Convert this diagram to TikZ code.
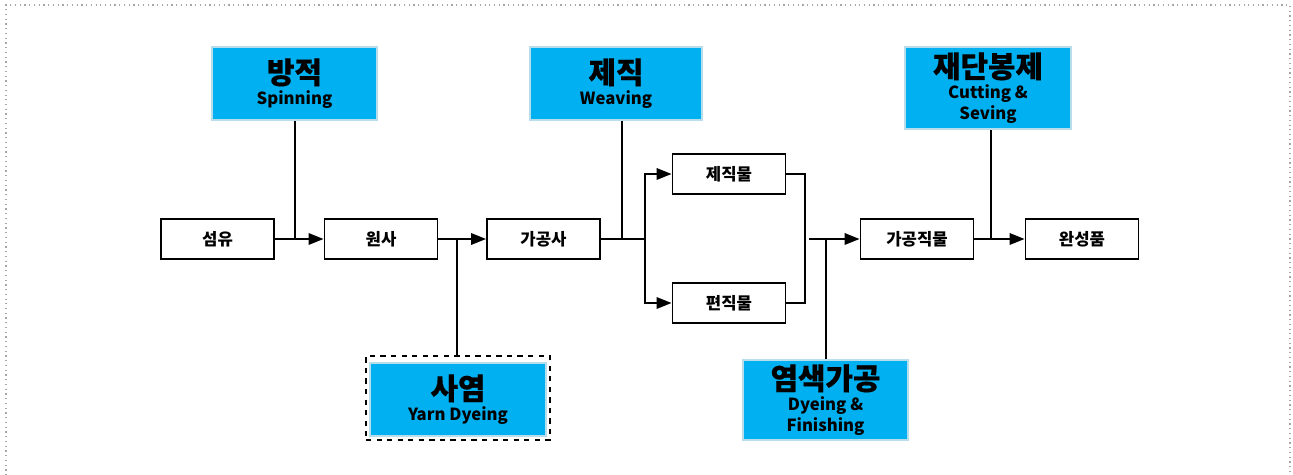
\documentclass[tikz,border=0pt]{standalone}
\usepackage{fontspec}
\setmainfont{Noto Sans CJK KR}
\newfontfamily\krmid{Noto Sans CJK KR}[FakeBold=0.4]
\usepackage{tikz}
\usetikzlibrary{arrows.meta}

\definecolor{taskblue}{HTML}{00B0F0}
\definecolor{taskedge}{HTML}{B8DEEC}
\newcommand{\bigkr}[1]{{\krmid\fontsize{17}{19}\selectfont #1}}

\begin{document}
\begin{tikzpicture}[x=0.02cm,y=-0.02cm,
    box/.style={draw,line width=1.1pt,minimum width=2.26cm,minimum height=0.8cm,
      inner sep=0pt,font=\bfseries\fontsize{9.5}{11}\selectfont},
    task/.style={draw=taskedge,line width=1.6pt,fill=taskblue,align=center,
      inner sep=0pt,font=\bfseries\fontsize{9.5}{12}\selectfont},
    flow/.style={line width=1.1pt,-{Triangle[length=3mm,width=2.3mm]}},
    link/.style={line width=1.1pt}]
        \useasboundingbox (0,0) rectangle (1293,475);
        \draw [gray!70,dotted,line width=0.7pt] (6,480) -- (6,5) -- (1290,5) -- (1290,480);
        % main line
        \node [box] (fiber) at (217.5,239) {섬유};
        \node [box] (yarn) at (381,239) {원사};
        \node [box] (pyarn) at (543.5,239) {가공사};
        \node [box] (woven) at (729,174) {제직물};
        \node [box] (knit) at (729,303) {편직물};
        \node [box] (fabric) at (917,239) {가공직물};
        \node [box] (product) at (1082,239) {완성품};
        % processes
        \node [task,minimum width=3.3cm,minimum height=1.46cm] (spin) at (294.5,83.5)
          {\bigkr{방적}\\[0pt]Spinning};
        \node [task,minimum width=3.44cm,minimum height=1.46cm] (weave) at (616,83.5)
          {\bigkr{제직}\\[0pt]Weaving};
        \node [task,minimum width=3.32cm,minimum height=1.64cm] (sew) at (988,88)
          {\bigkr{재단봉제}\\[0pt]Cutting \&\\Seving};
        \node [draw,dashed,line width=1.1pt,minimum width=3.68cm,minimum height=1.68cm] (ydbox) at (458,398) {};
        \node [task,minimum width=3.52cm,minimum height=1.46cm] (yarndye) at (458,399.5)
          {\bigkr{사염}\\[0pt]Yarn Dyeing};
        \node [task,minimum width=3.3cm,minimum height=1.6cm] (finish) at (825.5,400)
          {\bigkr{염색가공}\\[0pt]Dyeing \&\\Finishing};
        % joints
        \coordinate (sj) at (295,239);
        \coordinate (yj) at (457,239);
        \coordinate (wj) at (622,239);
        \coordinate (split) at (645,239);
        \coordinate (mt) at (805,174);
        \coordinate (mb) at (805,303);
        \coordinate (mo) at (809,239);
        \coordinate (dj) at (826,239);
        \coordinate (cj) at (991,239);
        % connectors
        \draw [flow] (fiber) -- (yarn);
        \draw [link] (sj) -- (sj |- spin.south);
        \draw [flow] (yarn) -- (pyarn);
        \draw [link] (yj) -- (yj |- ydbox.north);
        \draw [link] (pyarn) -- (split);
        \draw [link] (wj) -- (wj |- weave.south);
        \draw [flow] (split) |- (woven);
        \draw [flow] (split) |- (knit);
        \draw [link] (woven) -- (mt) -- (mb) -- (knit);
        \draw [flow] (mo) -- (fabric);
        \draw [link] (dj) -- (dj |- finish.north);
        \draw [flow] (fabric) -- (product);
        \draw [link] (cj) -- (cj |- sew.south);
      \end{tikzpicture}
\end{document}
